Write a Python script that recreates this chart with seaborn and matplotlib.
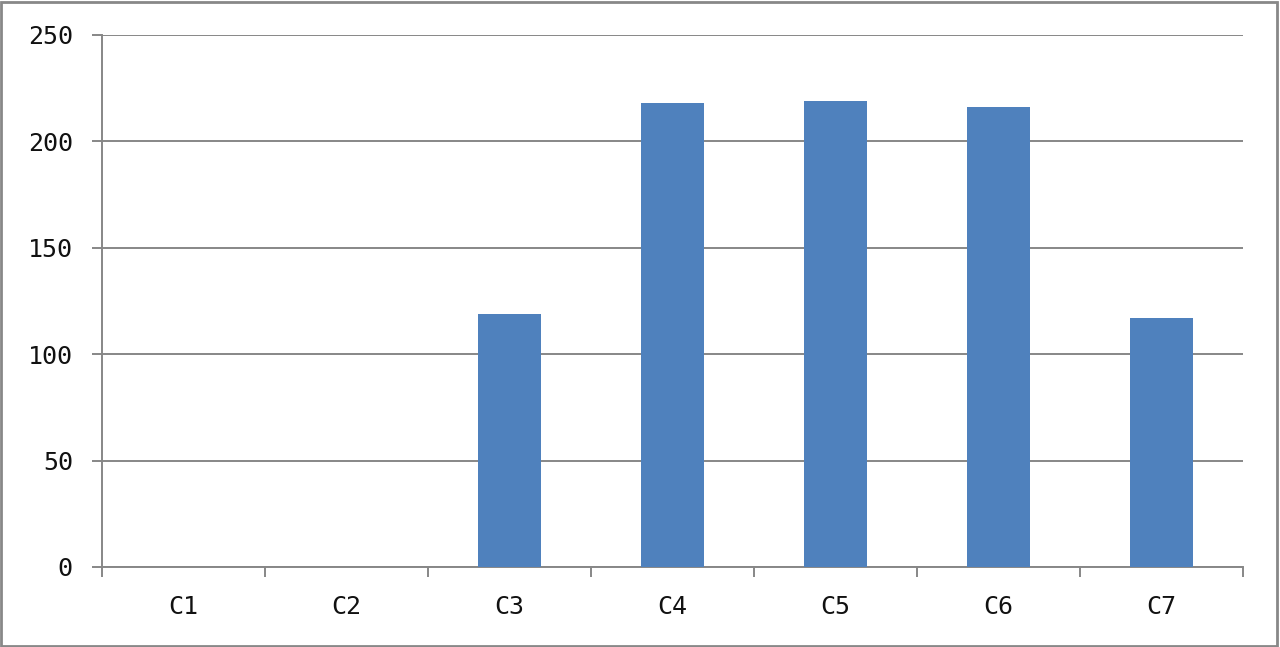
import numpy as np
import pandas as pd
import seaborn as sns
import matplotlib.pyplot as plt
from matplotlib.patches import Rectangle

# data
categories = ['C1', 'C2', 'C3', 'C4', 'C5', 'C6', 'C7']
values = [0, 0, 119, 218, 219, 216, 117]

df = pd.DataFrame({'cat': categories, 'val': values})

sns.set_style('white')
plt.rcParams['font.family'] = ['DejaVu Sans Mono', 'DejaVu Sans']

fig = plt.figure(figsize=(12.8, 6.47), dpi=100)
ax = fig.add_axes([102 / 1280, 1 - 567 / 647, (1243 - 102) / 1280, (567 - 35) / 647])

sns.barplot(data=df, x='cat', y='val', color='#4F81BD', saturation=1,
            width=0.39, linewidth=0, ax=ax, zorder=3)

grey = '#878787'
ax.set_ylim(0, 250)
ax.set_xlim(-0.5, len(categories) - 0.5)
ax.set_yticks(np.arange(0, 251, 50))
ax.yaxis.grid(True, color=grey, linewidth=1.4, zorder=0)
ax.set_axisbelow(True)

# category boundaries get the tick marks, labels sit in the middle
ax.set_xticks(np.arange(-0.5, len(categories), 1), minor=True)
ax.tick_params(axis='x', which='major', length=0, pad=20, labelsize=18, labelcolor='#111111')
ax.tick_params(axis='x', which='minor', length=7, width=1.4, color=grey, direction='out')
ax.tick_params(axis='y', length=7, width=1.4, color=grey, direction='out', pad=14,
               labelsize=18, labelcolor='#111111')
ax.tick_params(axis='both', which='both', bottom=True, left=True)

ax.set_xlabel('')
ax.set_ylabel('')
for s in ['top', 'right']:
    ax.spines[s].set_visible(False)
for s in ['left', 'bottom']:
    ax.spines[s].set_color(grey)
    ax.spines[s].set_linewidth(1.4)

# chart-area border
fig.patches.append(Rectangle((0.001, 0.002), 0.997, 0.995, transform=fig.transFigure,
                             fill=False, edgecolor='#888888', linewidth=2))

fig.savefig('out.png', dpi=100)
